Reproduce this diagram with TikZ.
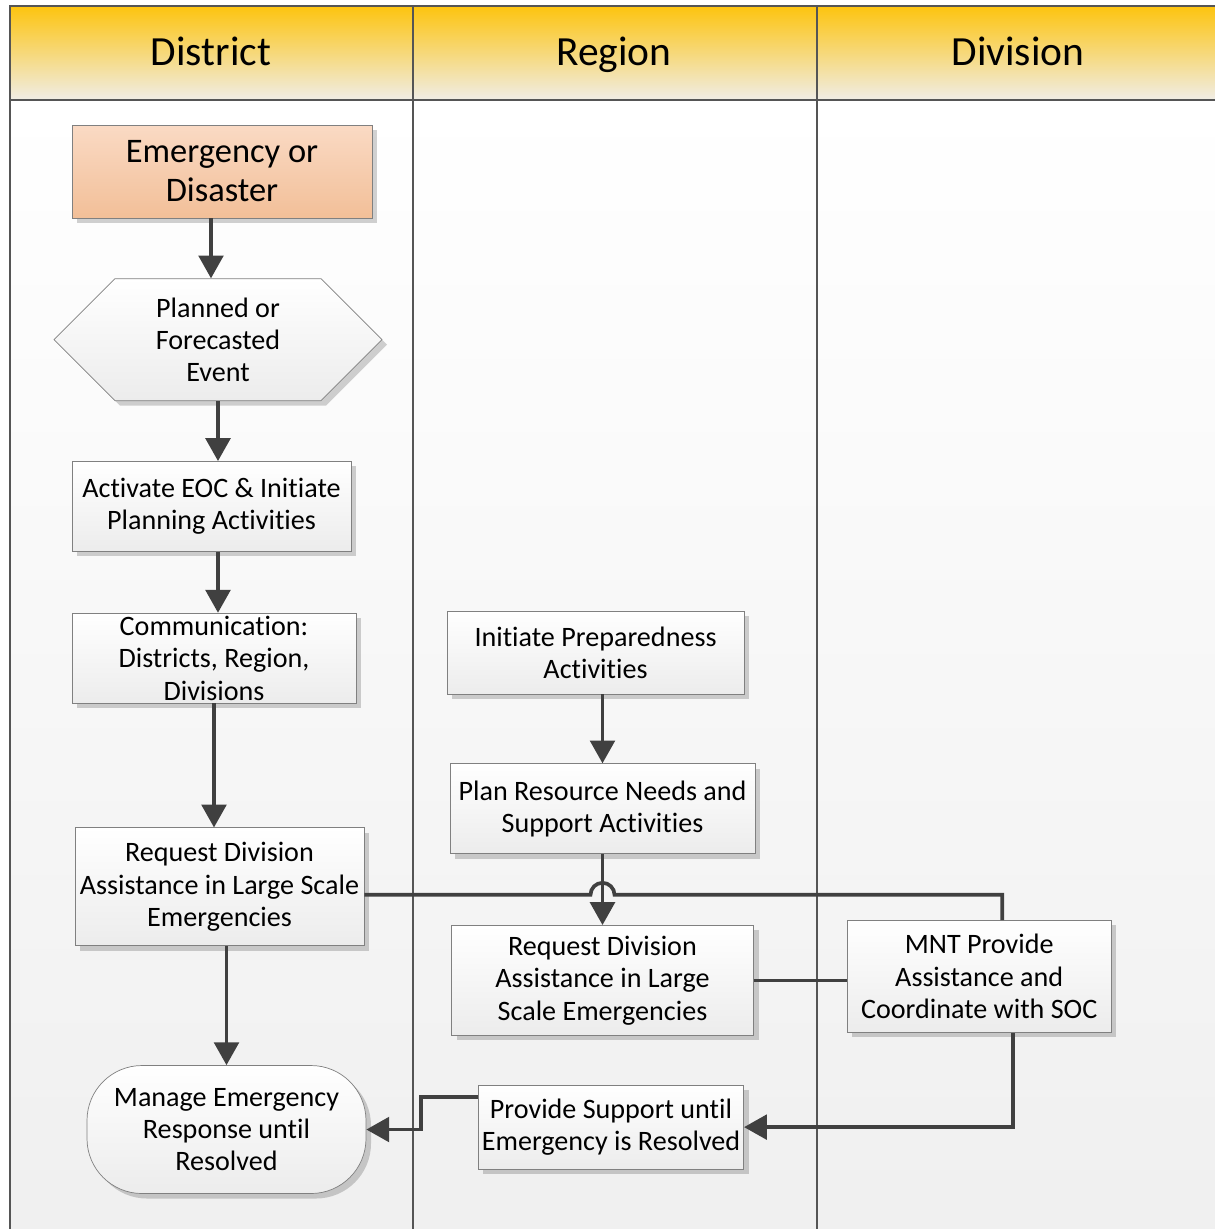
\documentclass[tikz,border=0pt]{standalone}
\usepackage{fontspec}
\setmainfont{Carlito}[Ligatures=NoCommon]
\usepackage{tikz}
\usetikzlibrary{arrows.meta, positioning, shapes, shadows}
\definecolor{linegray}{RGB}{64,64,64}
\definecolor{framegray}{RGB}{85,85,85}
\definecolor{boxgray}{RGB}{128,128,128}
\definecolor{headtop}{RGB}{253,196,15}
\definecolor{headbot}{RGB}{240,237,230}
\definecolor{peachtop}{RGB}{250,218,196}
\definecolor{peachbot}{RGB}{242,191,152}
\definecolor{boxbot}{RGB}{236,236,236}
\tikzstyle{arrow} = [line width=2.1pt, draw=linegray, -{Triangle[length=13pt,width=14pt]}]
\tikzstyle{link} = [line width=2.1pt, draw=linegray]
\tikzstyle{process} = [rectangle, draw=boxgray, top color=white, bottom color=boxbot, align=center, inner xsep=2pt, inner ysep=0pt, font=\fontsize{16}{18.4}\selectfont, drop shadow={shadow xshift=0.1cm, shadow yshift=-0.1cm, fill=black, opacity=0.18}]
\tikzstyle{start} = [process, top color=peachtop, bottom color=peachbot, font=\fontsize{19.6}{22.2}\selectfont]
\tikzstyle{event} = [process, shape=signal, signal to=east and west, signal pointer angle=90]
\tikzstyle{terminal} = [process, rounded corners=1.1cm]
\tikzset{
	lanehead/.style = {font=\fontsize{23.6}{28}\selectfont, anchor=base}
}

\begin{document}
\begin{tikzpicture}
\useasboundingbox (0,0) rectangle (24.3,-24.58);
%----------------------------------------------------------------------------
% Swim lanes
\shade [top color=white, bottom color=black!6] (0.2,-2.0) rectangle (24.3,-24.58);
\shade [top color=headtop, bottom color=headbot] (0.2,-0.12) rectangle (24.3,-2.0);
\draw [framegray, line width=0.7pt] (8.26,-0.12) -- (8.26,-24.58) (16.34,-0.12) -- (16.34,-24.58);
\draw [framegray, line width=1.4pt] (24.3,-0.12) -- (0.2,-0.12) -- (0.2,-24.58) (0.2,-2.0) -- (24.3,-2.0);
\node (district) [lanehead] at (4.22,-1.3) {District};
\node (region) [lanehead] at (12.28,-1.3) {Region};
\node (division) [lanehead] at (20.36,-1.3) {Division};

%----------------------------------------------------------------------------
% Placement of flowchart nodes
\node (emergency) [start, minimum width=6cm, minimum height=1.86cm] at (4.44,-3.43) {Emergency or\\Disaster};
\node (planned) [event, below=1.2cm of emergency, xshift=-0.08cm, minimum width=6.56cm, minimum height=2.44cm] {Planned or\\Forecasted\\Event};
\node (activate) [process, below=1.2cm of planned, xshift=-0.13cm, minimum width=5.58cm, minimum height=1.8cm] {Activate EOC \& Initiate\\Planning Activities};
\node (comm) [process, below=1.22cm of activate, xshift=0.05cm, minimum width=5.68cm, minimum height=1.8cm] {Communication:\\Districts, Region,\\Divisions};
\node (reqDistrict) [process, below=2.48cm of comm, xshift=0.11cm, minimum width=5.78cm, minimum height=2.36cm] {Request Division\\Assistance in Large Scale\\Emergencies};
\node (manage) [terminal, below=2.38cm of reqDistrict, xshift=0.14cm, minimum width=5.58cm, minimum height=2.56cm] {Manage Emergency\\Response until\\Resolved};

\node (initiate) [process, minimum width=5.94cm, minimum height=1.66cm] at (11.91,-13.05) {Initiate Preparedness\\Activities};
\node (plan) [process, below=1.38cm of initiate, xshift=0.14cm, minimum width=6.1cm, minimum height=1.8cm] {Plan Resource Needs and\\Support Activities};
\node (reqRegion) [process, below=1.42cm of plan, minimum width=6.04cm, minimum height=2.2cm] {Request Division\\Assistance in Large\\Scale Emergencies};
\node (provide) [process, below=0.98cm of reqRegion, xshift=0.17cm, minimum width=5.26cm, minimum height=1.68cm] {Provide Support until\\Emergency is Resolved};

\node (mnt) [process, right=1.86cm of reqRegion, yshift=0.08cm, minimum width=5.28cm, minimum height=2.24cm] {MNT Provide\\Assistance and\\Coordinate with SOC};

%----------------------------------------------------------------------------
% Draw lines
\draw [arrow] ([xshift=-0.14cm]emergency.south -| planned.north) -- ([xshift=-0.14cm]planned.north);
\draw [arrow] (planned.south) -- (planned.south |- activate.north);
\draw [arrow] (activate.south -| planned.south) -- (comm.north -| planned.south);
\draw [arrow] (comm.south) -- (reqDistrict.north -| comm.south);
\draw [arrow] (reqDistrict.south -| manage.north) -- (manage.north);

\draw [arrow] (initiate.south -| plan.north) -- (plan.north);
\draw [arrow] (plan.south) -- (reqRegion.north -| plan.south);

%----------------------------------------------------------------------------
% Cross-lane lines
\coordinate (reqOut) at ([yshift=-0.16cm]reqDistrict.east);
\coordinate (mntIn) at ([xshift=0.46cm]mnt.north);
\coordinate (hop) at (reqOut -| plan.south);
\draw [link] (reqOut) -- ([xshift=-0.24cm]hop) arc (180:0:0.24cm) -- (reqOut -| mntIn) -- (mntIn);
\draw [link] (reqRegion.east) -- (reqRegion.east -| mnt.west);
\draw [arrow] ([xshift=0.68cm]mnt.south) |- (provide.east);
\draw [arrow] ([yshift=0.6cm]provide.west) -- ++(-1.14,0) |- (manage.east);

\end{tikzpicture}
\end{document}
